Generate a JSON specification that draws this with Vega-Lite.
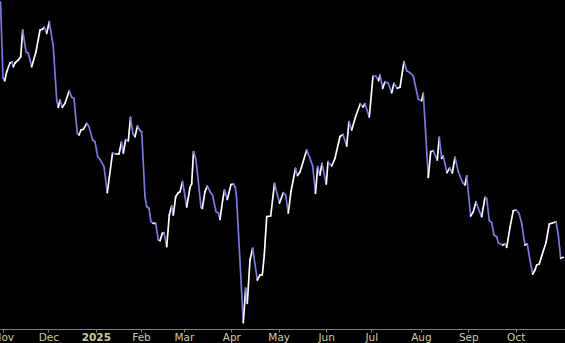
{
  "$schema": "https://vega.github.io/schema/vega-lite/v6.json",
  "width": 565,
  "height": 329,
  "padding": {"left": 0, "top": 0, "right": 0, "bottom": 14},
  "autosize": {"type": "none"},
  "background": "#000000",
  "config": {"view": {"stroke": null}},
  "data": {"values": [
    {"t": -1.24, "v": 327}, {"t": -0.13, "v": 251}, {"t": 0.62, "v": 248.3}, {"t": 1.51, "v": 257.3},
    {"t": 2.97, "v": 266}, {"t": 3.85, "v": 267}, {"t": 4.43, "v": 262.3}, {"t": 5.18, "v": 266},
    {"t": 6.65, "v": 269}, {"t": 7.71, "v": 272.3}, {"t": 8.59, "v": 299}, {"t": 10.06, "v": 277.3},
    {"t": 11.08, "v": 275.7}, {"t": 12.58, "v": 262.3}, {"t": 14.49, "v": 277.3}, {"t": 16.26, "v": 299},
    {"t": 17.28, "v": 299.7}, {"t": 18.16, "v": 301.7}, {"t": 19.23, "v": 295.7}, {"t": 20.38, "v": 307.3},
    {"t": 22.15, "v": 282.3}, {"t": 23.66, "v": 229}, {"t": 24.37, "v": 221.7}, {"t": 25.12, "v": 229},
    {"t": 26.14, "v": 221.7}, {"t": 27.33, "v": 225.7}, {"t": 29.24, "v": 238.3}, {"t": 30.3, "v": 231.7},
    {"t": 31.32, "v": 230.7}, {"t": 32.78, "v": 195.7}, {"t": 33.54, "v": 194}, {"t": 34.42, "v": 199},
    {"t": 35.44, "v": 199.7}, {"t": 36.95, "v": 205.7}, {"t": 37.97, "v": 202.3}, {"t": 39.6, "v": 189},
    {"t": 40.62, "v": 187.3}, {"t": 41.82, "v": 172.3}, {"t": 42.84, "v": 169.7}, {"t": 44.61, "v": 162.3},
    {"t": 46.07, "v": 136.3}, {"t": 48.38, "v": 176}, {"t": 49.93, "v": 175}, {"t": 51.26, "v": 175},
    {"t": 52.36, "v": 187}, {"t": 53.16, "v": 176}, {"t": 54.22, "v": 189.5}, {"t": 55.38, "v": 188},
    {"t": 56.35, "v": 211.7}, {"t": 57.46, "v": 195}, {"t": 58.34, "v": 192.3}, {"t": 59.45, "v": 203},
    {"t": 60.56, "v": 198.5}, {"t": 61.31, "v": 197.3}, {"t": 62.77, "v": 132.3}, {"t": 63.53, "v": 122.3},
    {"t": 64.55, "v": 120.7}, {"t": 65.43, "v": 107.3}, {"t": 66.45, "v": 105.7}, {"t": 67.51, "v": 105.7},
    {"t": 68.67, "v": 89}, {"t": 69.42, "v": 88.3}, {"t": 70.44, "v": 95.7}, {"t": 71.19, "v": 96.3},
    {"t": 72.39, "v": 82.3}, {"t": 73.54, "v": 114}, {"t": 74.6, "v": 123}, {"t": 75.31, "v": 114},
    {"t": 76.37, "v": 132.3}, {"t": 77.53, "v": 136.3}, {"t": 78.28, "v": 137.3}, {"t": 79.39, "v": 147.3},
    {"t": 80.05, "v": 139}, {"t": 81.25, "v": 122}, {"t": 82.71, "v": 141.5}, {"t": 83.46, "v": 145},
    {"t": 84.26, "v": 177.3}, {"t": 85.23, "v": 170.7}, {"t": 85.94, "v": 157.3}, {"t": 87.58, "v": 121.5},
    {"t": 88.16, "v": 120.7}, {"t": 89.35, "v": 137.3}, {"t": 90.37, "v": 143}, {"t": 91.7, "v": 137},
    {"t": 92.76, "v": 133.5}, {"t": 94.23, "v": 117.3}, {"t": 95.25, "v": 116.3}, {"t": 96.0, "v": 109.7},
    {"t": 97.19, "v": 129}, {"t": 97.99, "v": 139}, {"t": 99.23, "v": 129.5}, {"t": 100.87, "v": 144.5},
    {"t": 101.98, "v": 145}, {"t": 102.86, "v": 141}, {"t": 103.4, "v": 129}, {"t": 106.32, "v": 6.3},
    {"t": 107.38, "v": 40.7}, {"t": 108.09, "v": 25.7}, {"t": 109.29, "v": 69}, {"t": 110.48, "v": 80.7},
    {"t": 112.52, "v": 49}, {"t": 113.72, "v": 54}, {"t": 114.74, "v": 54}, {"t": 115.62, "v": 74},
    {"t": 116.69, "v": 112.3}, {"t": 118.46, "v": 113}, {"t": 120.14, "v": 145.7}, {"t": 122.36, "v": 126},
    {"t": 124.04, "v": 136.3}, {"t": 125.1, "v": 134}, {"t": 126.26, "v": 116}, {"t": 127.45, "v": 137.5},
    {"t": 129.44, "v": 160.7}, {"t": 130.33, "v": 153.5}, {"t": 131.44, "v": 157}, {"t": 134.41, "v": 179},
    {"t": 135.87, "v": 170.7}, {"t": 137.06, "v": 163}, {"t": 138.3, "v": 135.7}, {"t": 139.28, "v": 162.3},
    {"t": 140.3, "v": 154}, {"t": 141.18, "v": 165.7}, {"t": 143.09, "v": 145}, {"t": 143.84, "v": 167.3},
    {"t": 145.48, "v": 163}, {"t": 146.94, "v": 170.7}, {"t": 149.16, "v": 192.5}, {"t": 150.49, "v": 194.5},
    {"t": 152.13, "v": 183}, {"t": 153.14, "v": 207.5}, {"t": 154.34, "v": 199}, {"t": 156.02, "v": 212},
    {"t": 158.15, "v": 225.3}, {"t": 159.35, "v": 222}, {"t": 160.23, "v": 225.3}, {"t": 162.14, "v": 212},
    {"t": 163.78, "v": 253}, {"t": 165.11, "v": 252.7}, {"t": 166.21, "v": 248.3}, {"t": 166.88, "v": 254},
    {"t": 168.07, "v": 240.7}, {"t": 169.09, "v": 247.3}, {"t": 170.56, "v": 245.7}, {"t": 172.06, "v": 236.3},
    {"t": 173.08, "v": 245.7}, {"t": 174.54, "v": 240.7}, {"t": 175.74, "v": 241.7}, {"t": 177.51, "v": 267.3},
    {"t": 178.71, "v": 258.3}, {"t": 180.17, "v": 256.3}, {"t": 181.63, "v": 253}, {"t": 183.85, "v": 229.7},
    {"t": 185.35, "v": 228.3}, {"t": 186.06, "v": 235.7}, {"t": 188.28, "v": 151.7}, {"t": 189.34, "v": 177.3},
    {"t": 190.49, "v": 178.3}, {"t": 192.26, "v": 169}, {"t": 193.15, "v": 191.7}, {"t": 194.21, "v": 170.7},
    {"t": 194.92, "v": 173}, {"t": 196.56, "v": 156.3}, {"t": 197.76, "v": 161}, {"t": 198.91, "v": 156},
    {"t": 200.1, "v": 171.7}, {"t": 201.57, "v": 157.3}, {"t": 203.51, "v": 146.3}, {"t": 204.53, "v": 144},
    {"t": 205.29, "v": 153}, {"t": 207.06, "v": 113}, {"t": 208.21, "v": 117.3}, {"t": 209.41, "v": 127.3},
    {"t": 210.43, "v": 120.7}, {"t": 211.93, "v": 112.3}, {"t": 213.39, "v": 131.7}, {"t": 214.15, "v": 130.7},
    {"t": 215.3, "v": 108.3}, {"t": 216.36, "v": 106.3}, {"t": 217.38, "v": 94}, {"t": 218.58, "v": 92.3},
    {"t": 219.29, "v": 86.3}, {"t": 221.23, "v": 84}, {"t": 222.25, "v": 85}, {"t": 223.01, "v": 81.7},
    {"t": 224.47, "v": 101.7}, {"t": 225.93, "v": 118.3}, {"t": 227.13, "v": 119}, {"t": 228.46, "v": 115.7},
    {"t": 229.65, "v": 105.7}, {"t": 231.11, "v": 84}, {"t": 232.13, "v": 85}, {"t": 233.33, "v": 69},
    {"t": 234.52, "v": 55}, {"t": 235.54, "v": 59}, {"t": 236.3, "v": 64}, {"t": 237.45, "v": 65},
    {"t": 238.51, "v": 73}, {"t": 240.42, "v": 86.3}, {"t": 241.88, "v": 105}, {"t": 242.94, "v": 105.7},
    {"t": 244.85, "v": 107.3}, {"t": 245.87, "v": 94}, {"t": 246.93, "v": 70.7}, {"t": 248.08, "v": 71.7}
  ]},
  "transform": [
    {"window": [{"op": "lead", "field": "t", "as": "t2"}, {"op": "lead", "field": "v", "as": "v2"}], "sort": [{"field": "t"}]},
    {"filter": "datum.t2 != null"},
    {"calculate": "datum.v2 >= datum.v ? 'up' : 'down'", "as": "dir"}
  ],
  "mark": {"type": "rule", "strokeWidth": 1.7, "strokeCap": "round", "clip": true},
  "encoding": {
    "x": {
      "field": "t", "type": "quantitative",
      "scale": {"domain": [-1.462, 248.84], "nice": false, "zero": false},
      "axis": {
        "title": null,
        "grid": false,
        "values": [0, 20, 41, 61, 80, 101, 122, 143, 163, 185, 206, 227],
        "labelExpr": "['Nov','Dec','2025','Feb','Mar','Apr','May','Jun','Jul','Aug','Sep','Oct'][indexof([0,20,41,61,80,101,122,143,163,185,206,227], datum.value)]",
        "labelFlush": false,
        "labelOverlap": false,
        "labelFont": "DejaVu Sans",
        "labelFontSize": 10.5,
        "labelColor": "#cccc99",
        "labelFontWeight": {"condition": {"test": "datum.value == 41", "value": "bold"}, "value": "normal"},
        "labelBaseline": "alphabetic",
        "labelPadding": 8,
        "domainColor": "#808080",
        "domainWidth": 1,
        "tickColor": "#808080",
        "tickSize": 3,
        "tickWidth": 1
      }
    },
    "x2": {"field": "t2"},
    "y": {"field": "v", "type": "quantitative", "scale": {"domain": [0, 329], "nice": false, "zero": false}, "axis": null},
    "y2": {"field": "v2"},
    "color": {
      "field": "dir", "type": "nominal",
      "scale": {"domain": ["up", "down"], "range": ["#ffffff", "#7878e6"]},
      "legend": null
    }
  }
}
